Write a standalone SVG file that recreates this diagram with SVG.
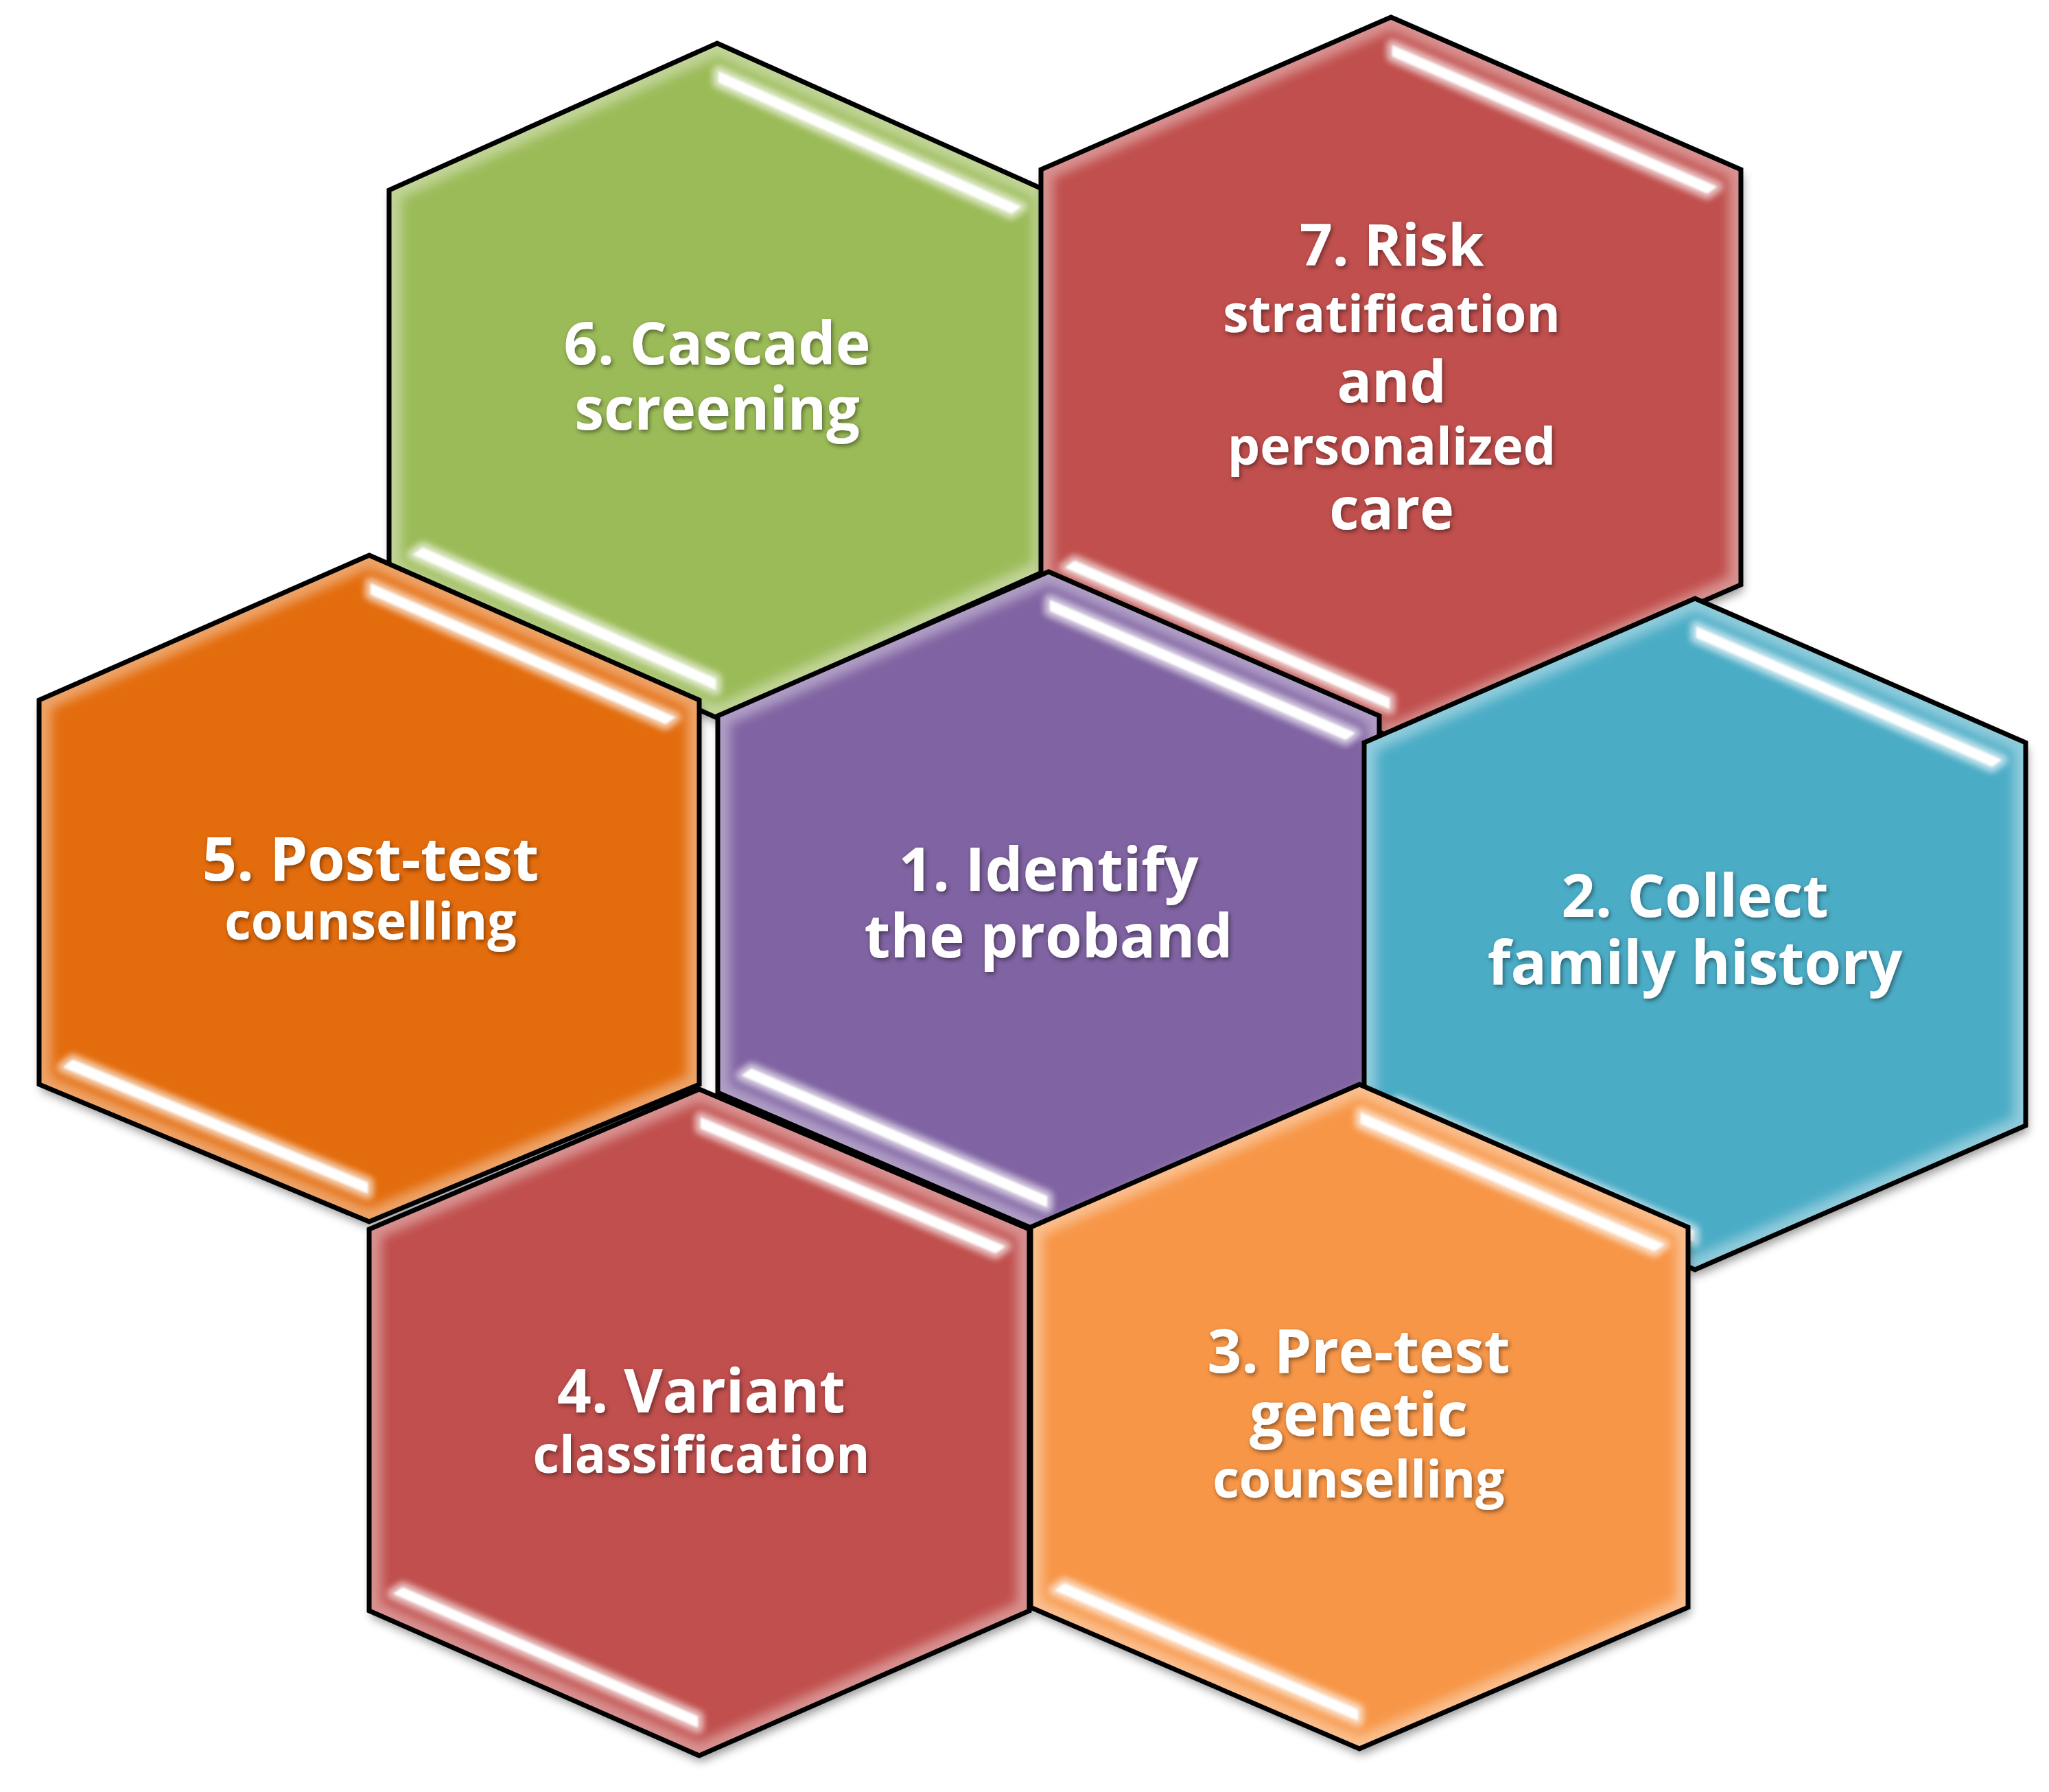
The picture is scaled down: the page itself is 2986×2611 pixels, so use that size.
<svg xmlns="http://www.w3.org/2000/svg" xmlns:xlink="http://www.w3.org/1999/xlink" width="2986" height="2611" viewBox="0 0 2986 2611">
<style>
.fill{filter:url(#shadow)}
.glow{fill:none;stroke:#fff;stroke-opacity:.38;stroke-width:36;filter:url(#blur8)}
.halo{fill:#fff;fill-opacity:.55;stroke:#fff;stroke-opacity:.55;stroke-width:18;stroke-linejoin:round;filter:url(#blur4)}
.hl{fill:#fff;filter:url(#blur1)}
.outline{fill:none;stroke:#000;stroke-width:7;stroke-linejoin:miter}
.lbl{font-family:"Open Sans","Noto Sans","DejaVu Sans",sans-serif;font-weight:700;fill:#fff;text-anchor:middle;filter:url(#tshadow)}
</style>
<defs>
<filter id="shadow" x="-5%" y="-5%" width="115%" height="120%"><feDropShadow dx="3" dy="9" stdDeviation="7" flood-color="#000" flood-opacity=".4"/></filter>
<filter id="blur8" x="-10%" y="-10%" width="120%" height="120%"><feGaussianBlur stdDeviation="8"/></filter>
<filter id="blur4" x="-10%" y="-30%" width="120%" height="160%"><feGaussianBlur stdDeviation="4"/></filter>
<filter id="blur1" x="-10%" y="-30%" width="120%" height="160%"><feGaussianBlur stdDeviation="1.5"/></filter>
<filter id="tshadow" x="-10%" y="-30%" width="120%" height="160%"><feDropShadow dx="2" dy="3" stdDeviation="3" flood-color="#000" flood-opacity=".45"/></filter>
<polygon id="h6" points="1045,63 1523,277 1523,832 1045,1046 567,832 567,277"/>
<polygon id="h7" points="2027,25 2537,247 2537,852 2027,1074 1517,852 1517,247"/>
<polygon id="h5" points="538,809 1019,1020 1019,1580 538,1780 57,1580 57,1020"/>
<polygon id="h1" points="1528,833 2010,1043 2010,1592 1528,1800 1046,1592 1046,1043"/>
<polygon id="h2" points="2470,872 2952,1082 2952,1640 2470,1850 1988,1640 1988,1082"/>
<polygon id="h4" points="1019,1587 1500,1791 1500,2347 1019,2558 538,2347 538,1791"/>
<polygon id="h3" points="1981,1580 2460,1788 2460,2342 1981,2548 1502,2342 1502,1788"/>
<clipPath id="c6"><use xlink:href="#h6"/></clipPath>
<clipPath id="c7"><use xlink:href="#h7"/></clipPath>
<clipPath id="c5"><use xlink:href="#h5"/></clipPath>
<clipPath id="c1"><use xlink:href="#h1"/></clipPath>
<clipPath id="c2"><use xlink:href="#h2"/></clipPath>
<clipPath id="c4"><use xlink:href="#h4"/></clipPath>
<clipPath id="c3"><use xlink:href="#h3"/></clipPath>
</defs>
<rect width="2986" height="2611" fill="#fff"/>

<g id="node6">
<use xlink:href="#h6" class="fill" fill="#9BBB59"/>
<g clip-path="url(#c6)"><use xlink:href="#h6" class="glow"/>
<polygon class="halo" points="1047,104 1488,301 1474,311 1047,120"/><polygon class="hl" points="1047,104 1488,301 1474,311 1047,120"/>
<polygon class="halo" points="616,798 1043,989 1043,1005 602,808"/><polygon class="hl" points="616,798 1043,989 1043,1005 602,808"/></g>
<use xlink:href="#h6" class="outline"/>
<text class="lbl" font-size="86"><tspan x="1045" y="531">6. Cascade</tspan><tspan x="1045" y="626">screening</tspan></text>
</g>

<g id="node7">
<use xlink:href="#h7" class="fill" fill="#C0504D"/>
<g clip-path="url(#c7)"><use xlink:href="#h7" class="glow"/>
<polygon class="halo" points="2029,66 2502,272 2488,282 2029,82"/><polygon class="hl" points="2029,66 2502,272 2488,282 2029,82"/>
<polygon class="halo" points="1566,817 2025,1017 2025,1033 1552,827"/><polygon class="hl" points="1566,817 2025,1017 2025,1033 1552,827"/></g>
<use xlink:href="#h7" class="outline"/>
<text class="lbl" font-size="84"><tspan x="2028" y="387">7. Risk</tspan><tspan x="2028" y="484" font-size="75">stratification</tspan><tspan x="2028" y="586">and</tspan><tspan x="2028" y="677" font-size="75">personalized</tspan><tspan x="2028" y="771">care</tspan></text>
</g>

<g id="node5">
<use xlink:href="#h5" class="fill" fill="#E36C09"/>
<g clip-path="url(#c5)"><use xlink:href="#h5" class="glow"/>
<polygon class="halo" points="540,850 984,1045 970,1055 540,866"/><polygon class="hl" points="540,850 984,1045 970,1055 540,866"/>
<polygon class="halo" points="106,1544 536,1723 536,1739 92,1555"/><polygon class="hl" points="106,1544 536,1723 536,1739 92,1555"/></g>
<use xlink:href="#h5" class="outline"/>
<text class="lbl" font-size="88"><tspan x="540" y="1283">5. Post-test</tspan><tspan x="540" y="1369" font-size="75">counselling</tspan></text>
</g>

<g id="node1">
<use xlink:href="#h1" class="fill" fill="#8064A2"/>
<g clip-path="url(#c1)"><use xlink:href="#h1" class="glow"/>
<polygon class="halo" points="1530,874 1975,1068 1961,1078 1530,890"/><polygon class="hl" points="1530,874 1975,1068 1961,1078 1530,890"/>
<polygon class="halo" points="1095,1557 1526,1743 1526,1759 1081,1567"/><polygon class="hl" points="1095,1557 1526,1743 1526,1759 1081,1567"/></g>
<use xlink:href="#h1" class="outline"/>
<text class="lbl" font-size="87"><tspan x="1528" y="1298">1. Identify</tspan><tspan x="1528" y="1395">the proband</tspan></text>
</g>

<g id="node2">
<use xlink:href="#h2" class="fill" fill="#4BACC6"/>
<g clip-path="url(#c2)"><use xlink:href="#h2" class="glow"/>
<polygon class="halo" points="2472,913 2917,1107 2903,1117 2472,929"/><polygon class="hl" points="2472,913 2917,1107 2903,1117 2472,929"/>
<polygon class="halo" points="2037,1605 2468,1793 2468,1809 2023,1615"/><polygon class="hl" points="2037,1605 2468,1793 2468,1809 2023,1615"/></g>
<use xlink:href="#h2" class="outline"/>
<text class="lbl" font-size="86"><tspan x="2470" y="1336">2. Collect</tspan><tspan x="2470" y="1434" font-size="87">family history</tspan></text>
</g>

<g id="node4">
<use xlink:href="#h4" class="fill" fill="#C0504D"/>
<g clip-path="url(#c4)"><use xlink:href="#h4" class="glow"/>
<polygon class="halo" points="1021,1628 1465,1816 1451,1826 1021,1644"/><polygon class="hl" points="1021,1628 1465,1816 1451,1826 1021,1644"/>
<polygon class="halo" points="587,2313 1017,2501 1017,2517 573,2322"/><polygon class="hl" points="587,2313 1017,2501 1017,2517 573,2322"/></g>
<use xlink:href="#h4" class="outline"/>
<text class="lbl" font-size="87"><tspan x="1022" y="2058">4. Variant</tspan><tspan x="1022" y="2146" font-size="75">classification</tspan></text>
</g>

<g id="node3">
<use xlink:href="#h3" class="fill" fill="#F79646"/>
<g clip-path="url(#c3)"><use xlink:href="#h3" class="glow"/>
<polygon class="halo" points="1983,1621 2425,1813 2411,1823 1983,1637"/><polygon class="hl" points="1983,1621 2425,1813 2411,1823 1983,1637"/>
<polygon class="halo" points="1551,2307 1979,2491 1979,2507 1537,2317"/><polygon class="hl" points="1551,2307 1979,2491 1979,2507 1537,2317"/></g>
<use xlink:href="#h3" class="outline"/>
<text class="lbl" font-size="87"><tspan x="1980" y="2000">3. Pre-test</tspan><tspan x="1980" y="2092">genetic</tspan><tspan x="1980" y="2182" font-size="75">counselling</tspan></text>
</g>
</svg>
